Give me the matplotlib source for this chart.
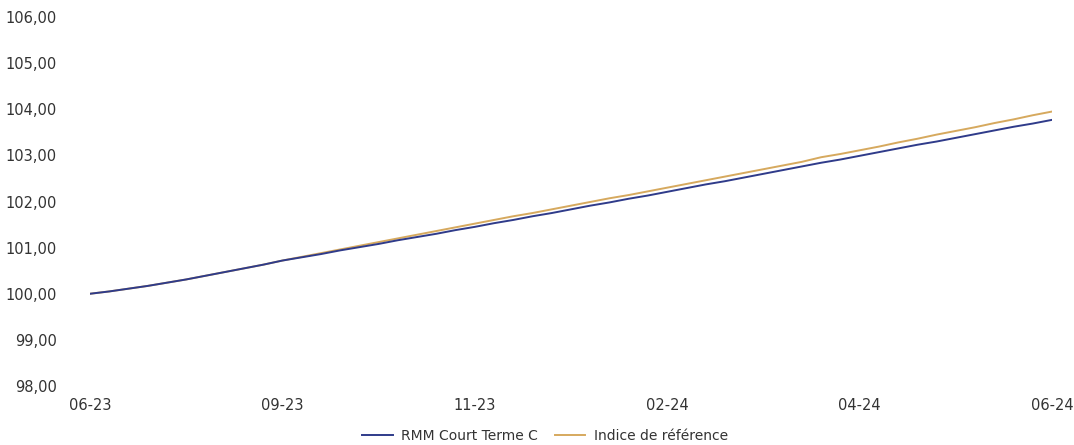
import matplotlib
matplotlib.use('Agg')
import matplotlib.pyplot as plt
from matplotlib.ticker import FuncFormatter

# weekly values
rmm = [100.00, 100.05, 100.11, 100.17, 100.24, 100.31, 100.39, 100.47, 100.55, 100.63, 100.72,
       100.79, 100.86, 100.94, 101.01, 101.08, 101.16, 101.23, 101.30, 101.38, 101.45,
       101.53, 101.60, 101.68, 101.75, 101.83, 101.91, 101.98, 102.06, 102.13, 102.21,
       102.29, 102.37, 102.44, 102.52, 102.60, 102.68, 102.76, 102.84, 102.91, 102.99,
       103.07, 103.15, 103.23, 103.30, 103.38, 103.46, 103.54, 103.62, 103.69, 103.77]
indice = [100.00, 100.05, 100.11, 100.17, 100.24, 100.31, 100.39, 100.47, 100.55, 100.63, 100.72,
          100.80, 100.88, 100.96, 101.04, 101.12, 101.20, 101.28, 101.36, 101.44, 101.52,
          101.60, 101.68, 101.75, 101.83, 101.91, 101.99, 102.07, 102.14, 102.22, 102.30,
          102.38, 102.46, 102.54, 102.62, 102.70, 102.78, 102.86, 102.96, 103.03, 103.11,
          103.19, 103.28, 103.36, 103.45, 103.53, 103.61, 103.70, 103.78, 103.87, 103.95]
tick_labels = ['06-23', '09-23', '11-23', '02-24', '04-24', '06-24']
tick_pos = [0, 10, 20, 30, 40, 50]

blue = '#2f3b8a'
gold = '#d6a95e'

fig = plt.figure(figsize=(10.74, 4.45), dpi=100)
ax = fig.add_axes([90 / 1074, 59 / 445, (1052 - 90) / 1074, (386 - 17) / 445])

x = list(range(len(rmm)))
ax.plot(x, indice, color=gold, lw=1.4, label='Indice de référence')
ax.plot(x, rmm, color=blue, lw=1.4, label='RMM Court Terme C')

ax.set_xlim(0, 50)
ax.set_ylim(98, 106)
ax.set_yticks(range(98, 107))
ax.yaxis.set_major_formatter(FuncFormatter(lambda v, p: f'{v:.2f}'.replace('.', ',')))
ax.set_xticks(tick_pos)
ax.set_xticklabels(tick_labels)

for s in ax.spines.values():
    s.set_visible(False)
ax.tick_params(axis='both', length=0, labelsize=10.5, colors='#333333')
ax.tick_params(axis='y', pad=24)
ax.tick_params(axis='x', pad=9)

handles, labels = ax.get_legend_handles_labels()
fig.legend(handles[::-1], labels[::-1], loc='center', bbox_to_anchor=(545 / 1074, 1 - 436 / 445),
           ncol=2, frameon=False, fontsize=10, handlelength=2.2, columnspacing=1.2,
           handletextpad=0.6, labelcolor='#333333')

fig.savefig('out.png', dpi=100)
